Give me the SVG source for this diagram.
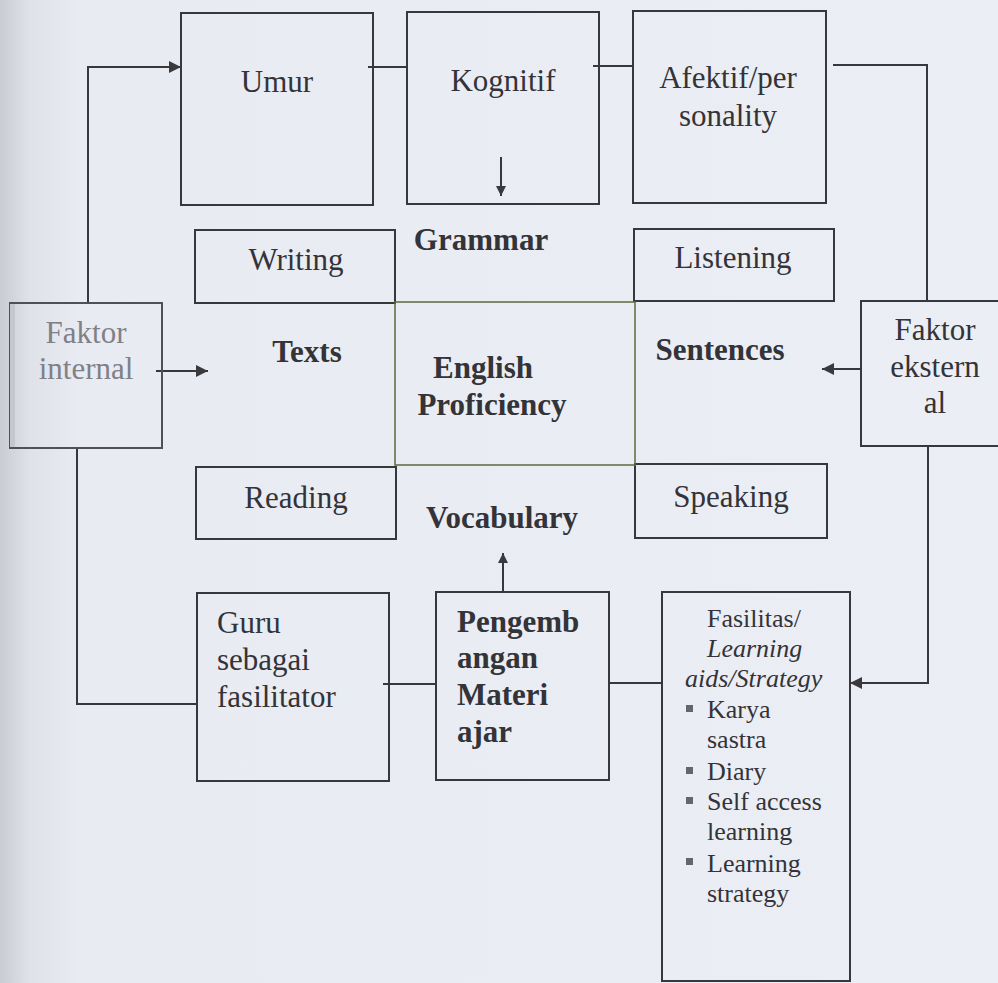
<svg xmlns="http://www.w3.org/2000/svg" width="998" height="983" viewBox="0 0 998 983">
<defs>
<linearGradient id="bg" x1="0" y1="0" x2="1" y2="0">
<stop offset="0" stop-color="#c9ccd2"/>
<stop offset="0.03" stop-color="#dfe2e8"/>
<stop offset="0.08" stop-color="#e8ebf1"/>
<stop offset="1" stop-color="#eceef5"/>
</linearGradient>
<marker id="ah" viewBox="0 0 10 10" refX="10" refY="5" markerWidth="10" markerHeight="10" markerUnits="userSpaceOnUse" orient="auto">
<path d="M0,0 L10,5 L0,10 z" fill="#3a3a3e"/>
</marker>
<marker id="ahb" viewBox="0 0 10 10" refX="10" refY="5" markerWidth="12" markerHeight="12" markerUnits="userSpaceOnUse" orient="auto">
<path d="M0,0 L10,5 L0,10 z" fill="#3a3a3e"/>
</marker>
</defs>
<style>
.box{fill:none;stroke:#38383c;stroke-width:2}
.ln{fill:none;stroke:#38383c;stroke-width:2}
.t{font-family:"Liberation Serif","Times New Roman",serif;font-size:31px;fill:#333338}
.b{font-weight:bold}
.s{font-size:26px}
.c{text-anchor:middle}
.bul{fill:#66666a}
</style>
<rect x="0" y="0" width="998" height="983" fill="url(#bg)"/>

<g id="connectors">
<line class="ln" x1="368" y1="67" x2="407" y2="67"/>
<line class="ln" x1="593" y1="66" x2="633" y2="66"/>
<polyline class="ln" points="833,65 927,65 927,301"/>
<polyline class="ln" points="88,303 88,67 181,67" stroke="#55555a" marker-end="url(#ahb)"/>
<line class="ln" x1="156" y1="371" x2="208" y2="371" marker-end="url(#ahb)"/>
<polyline class="ln" points="77,448 77,704 197,704"/>
<line class="ln" x1="861" y1="369" x2="822" y2="369" marker-end="url(#ahb)"/>
<polyline class="ln" points="928,446 928,683 850,683" marker-end="url(#ahb)"/>
<line class="ln" x1="501" y1="157" x2="501" y2="196" marker-end="url(#ah)"/>
<line class="ln" x1="503" y1="592" x2="503" y2="553" marker-end="url(#ah)"/>
<line class="ln" x1="383" y1="684" x2="436" y2="684"/>
<line class="ln" x1="609" y1="683" x2="662" y2="683"/>
</g>

<g id="umur"><rect class="box" x="181" y="13" width="192" height="192"/><text class="t c" x="277" y="92">Umur</text></g>
<g id="kognitif"><rect class="box" x="407" y="12" width="192" height="192"/><text class="t c" x="503" y="91">Kognitif</text></g>
<g id="afektif"><rect class="box" x="633" y="11" width="193" height="192"/><text class="t c" x="728" y="88">Afektif/per</text><text class="t c" x="728" y="126">sonality</text></g>

<g id="writing"><rect class="box" x="195" y="230" width="200" height="73"/><text class="t c" x="296" y="270">Writing</text></g>
<g id="listening"><rect class="box" x="634" y="229" width="200" height="72"/><text class="t c" x="733" y="268">Listening</text></g>
<g id="reading"><rect class="box" x="196" y="467" width="200" height="72"/><text class="t c" x="296" y="508">Reading</text></g>
<g id="speaking"><rect class="box" x="635" y="464" width="192" height="74"/><text class="t c" x="731" y="507">Speaking</text></g>

<g id="center"><rect x="395" y="302" width="240" height="163" fill="none" stroke="#5c6a3c" stroke-width="1.5"/>
<text class="t b c" x="483" y="378">English</text><text class="t b c" x="492" y="415">Proficiency</text></g>
<g id="grammar"><text class="t b c" x="481" y="250">Grammar</text></g>
<g id="texts"><text class="t b c" x="307" y="362">Texts</text></g>
<g id="sentences"><text class="t b c" x="720" y="360">Sentences</text></g>
<g id="vocabulary"><text class="t b c" x="502" y="528">Vocabulary</text></g>

<g id="faktor-internal"><rect x="10" y="303" width="152" height="145" fill="none" stroke="#505055" stroke-width="2"/><rect x="10" y="304" width="5" height="143" fill="#c4c7cd"/>
<text class="t c" x="86" y="343" fill="#7a7a80" style="fill:#808086">Faktor</text><text class="t c" x="86" y="379" style="fill:#808086">internal</text></g>

<g id="faktor-ekstern"><rect class="box" x="861" y="301" width="140" height="145"/>
<text class="t c" x="935" y="340">Faktor</text><text class="t c" x="935" y="377">ekstern</text><text class="t c" x="935" y="413">al</text></g>

<g id="guru"><rect class="box" x="197" y="593" width="192" height="188"/>
<text class="t" x="217" y="633">Guru</text><text class="t" x="217" y="670">sebagai</text><text class="t" x="217" y="707">fasilitator</text></g>

<g id="pengembangan"><rect class="box" x="436" y="592" width="173" height="188"/>
<text class="t b" x="457" y="632">Pengemb</text><text class="t b" x="457" y="668">angan</text><text class="t b" x="457" y="705">Materi</text><text class="t b" x="457" y="742">ajar</text></g>

<g id="fasilitas"><rect class="box" x="662" y="592" width="188" height="389"/>
<text class="t s" x="707" y="627">Fasilitas/</text>
<text class="t s" x="707" y="657" font-style="italic">Learning</text>
<text class="t s" x="685" y="687" font-style="italic">aids/Strategy</text>
<rect class="bul" x="686" y="705" width="7" height="7"/><text class="t s" x="707" y="718">Karya</text>
<text class="t s" x="707" y="748">sastra</text>
<rect class="bul" x="686" y="767" width="7" height="7"/><text class="t s" x="707" y="780">Diary</text>
<rect class="bul" x="686" y="797" width="7" height="7"/><text class="t s" x="707" y="810">Self access</text>
<text class="t s" x="707" y="840">learning</text>
<rect class="bul" x="686" y="858" width="7" height="7"/><text class="t s" x="707" y="872">Learning</text>
<text class="t s" x="707" y="902">strategy</text></g>
</svg>
